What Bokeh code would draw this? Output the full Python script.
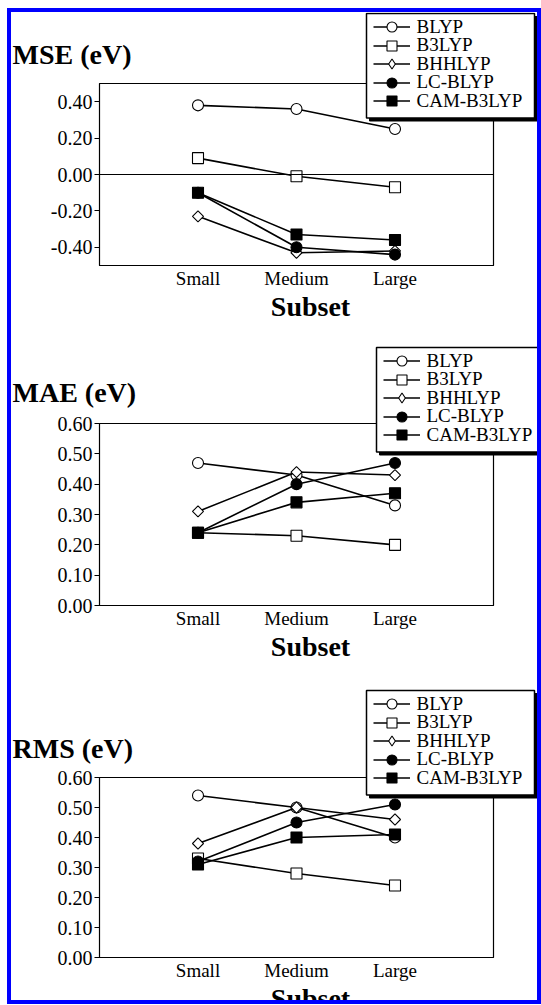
import math
from bokeh.plotting import figure
from bokeh.models import (Range1d, FactorRange, FixedTicker, PrintfTickFormatter,
                          Legend, LegendItem, Span, Label, Spacer, BoxAnnotation)
from bokeh.layouts import column, row
from bokeh.embed import file_html
from bokeh.resources import INLINE

# ---------------- data ----------------
subsets = ["Small", "Medium", "Large"]
methods = ["BLYP", "B3LYP", "BHHLYP", "LC-BLYP", "CAM-B3LYP"]

mse_blyp = [0.38, 0.36, 0.25]
mse_b3lyp = [0.09, -0.01, -0.07]
mse_bhhlyp = [-0.23, -0.43, -0.42]
mse_lcblyp = [-0.10, -0.40, -0.44]
mse_camb3lyp = [-0.10, -0.33, -0.36]

mae_blyp = [0.47, 0.43, 0.33]
mae_b3lyp = [0.24, 0.23, 0.20]
mae_bhhlyp = [0.31, 0.44, 0.43]
mae_lcblyp = [0.24, 0.40, 0.47]
mae_camb3lyp = [0.24, 0.34, 0.37]

rms_blyp = [0.54, 0.50, 0.40]
rms_b3lyp = [0.33, 0.28, 0.24]
rms_bhhlyp = [0.38, 0.50, 0.46]
rms_lcblyp = [0.32, 0.45, 0.51]
rms_camb3lyp = [0.31, 0.40, 0.41]

mse_ticks = [-0.4, -0.2, 0.0, 0.2, 0.4]
err_ticks = [0.0, 0.1, 0.2, 0.3, 0.4, 0.5, 0.6]
panel_titles = ["MSE (eV)", "MAE (eV)", "RMS (eV)"]
x_title = "Subset"

# ---------------- styles ----------------
SERIF = "Liberation Serif"
W = 526
HEIGHTS = [324, 340, 324]
INNER_H = sum(HEIGHTS)
# marker, fill, size, angle (plot) and marker, size (legend key)
marker_style = {
    "BLYP": ("circle", "white", 11, 0.0, "circle"),
    "B3LYP": ("square", "white", 11, 0.0, "square"),
    "BHHLYP": ("square", "white", 7.8, math.pi / 4, "diamond"),
    "LC-BLYP": ("circle", "black", 11, 0.0, "circle"),
    "CAM-B3LYP": ("square", "black", 11, 0.0, "square"),
}


def make_panel(series, yrange, yticks, height, top, bottom, zero=False):
    p = figure(width=W, height=height,
               x_range=FactorRange(factors=subsets, range_padding=0.5,
                                   range_padding_units="absolute"),
               y_range=Range1d(*yrange),
               output_backend="svg", toolbar_location=None,
               min_border_left=88, min_border_right=44,
               min_border_top=top, min_border_bottom=bottom,
               background_fill_color="white", border_fill_color="white")
    p.xgrid.grid_line_color = None
    p.ygrid.grid_line_color = None
    p.outline_line_color = "black"
    p.outline_line_width = 1.2

    ya = p.yaxis[0]
    ya.ticker = FixedTicker(ticks=yticks)
    ya.formatter = PrintfTickFormatter(format="%.2f")
    ya.minor_tick_line_color = None
    ya.major_tick_in = 0
    ya.major_tick_out = 5
    ya.major_label_standoff = 2
    ya.axis_line_color = "black"
    ya.major_tick_line_color = "black"
    ya.major_label_text_font = SERIF
    ya.major_label_text_font_size = "20px"
    ya.major_label_text_color = "black"

    xa = p.xaxis[0]
    xa.major_tick_in = 0
    xa.major_tick_out = 0
    xa.major_tick_line_color = None
    xa.minor_tick_line_color = None
    xa.major_label_standoff = 2
    xa.axis_line_color = "black"
    xa.major_label_text_font = SERIF
    xa.major_label_text_font_size = "19px"
    xa.major_label_text_color = "black"

    if zero:
        p.add_layout(Span(location=0, dimension="width", line_color="black", line_width=1.2))

    for m, ys in zip(methods, series):
        mk, fill, sz, ang, _ = marker_style[m]
        p.line(subsets, ys, line_color="black", line_width=1.6)
        p.scatter(subsets, ys, marker=mk, size=sz, angle=ang, fill_color=fill,
                  line_color="black", line_width=1.1)
    return p


p1 = make_panel([mse_blyp, mse_b3lyp, mse_bhhlyp, mse_lcblyp, mse_camb3lyp],
                (-0.5, 0.5), mse_ticks, HEIGHTS[0], 71, 71, zero=True)
p2 = make_panel([mae_blyp, mae_b3lyp, mae_bhhlyp, mae_lcblyp, mae_camb3lyp],
                (0.0, 0.6), err_ticks, HEIGHTS[1], 87, 71)
p3 = make_panel([rms_blyp, rms_b3lyp, rms_bhhlyp, rms_lcblyp, rms_camb3lyp],
                (0.0, 0.6), err_ticks, HEIGHTS[2], 101, 43)

# ---------- transparent overlay: titles, "Subset" labels and legends ----------
ov = figure(width=W, height=INNER_H, x_range=Range1d(0, 1), y_range=Range1d(0, 1),
            output_backend="svg", toolbar_location=None,
            x_axis_location=None, y_axis_location=None, min_border=0,
            frame_align=False,
            background_fill_color=None, border_fill_color=None, outline_line_color=None,
            margin=(-INNER_H, 0, 0, 0))
ov.xgrid.grid_line_color = None
ov.ygrid.grid_line_color = None

key_renderers = {}
for m in methods:
    _, fill, _, _, key_mk = marker_style[m]
    lr = ov.line([0, 1], [0, 1], line_color="black", line_width=1.6, visible=False)
    sr = ov.scatter([0], [0], marker=key_mk, size=10, fill_color=fill,
                    line_color="black", line_width=1.1, visible=False)
    key_renderers[m] = [lr, sr]

BOX_W, BOX_H = 168, 104.5
FIRST, PITCH = 13.5, 18.6


def add_key(x0, y0):
    """Legend box whose top-left corner is (x0, y0) in overlay pixels (y down)."""
    ov.add_layout(BoxAnnotation(left=x0 + 3, right=x0 + BOX_W + 3,
                                top=INNER_H - (y0 + 3), bottom=INNER_H - (y0 + BOX_H + 3),
                                left_units="screen", right_units="screen",
                                top_units="screen", bottom_units="screen",
                                fill_color="black", fill_alpha=1.0,
                                line_color="black", line_alpha=1.0, line_width=1))
    ov.add_layout(BoxAnnotation(left=x0, right=x0 + BOX_W,
                                top=INNER_H - y0, bottom=INNER_H - (y0 + BOX_H),
                                left_units="screen", right_units="screen",
                                top_units="screen", bottom_units="screen",
                                fill_color="white", fill_alpha=1.0,
                                line_color="black", line_alpha=1.0, line_width=1.5))
    for k, m in enumerate(methods):
        cy = y0 + FIRST + PITCH * k
        ov.add_layout(Legend(items=[LegendItem(label=m, renderers=key_renderers[m])],
                             location=(x0 + 6.5, INNER_H - (cy + 12.5)),
                             orientation="vertical",
                             glyph_width=37, glyph_height=25, spacing=0, padding=0, margin=0,
                             label_standoff=7, label_width=20, label_height=20,
                             label_text_font=SERIF, label_text_font_size="19px",
                             label_text_color="black",
                             border_line_color=None, background_fill_color=None))


# top-left corners of the three legend boxes (overlay pixels, y down)
legend_corners = [(355, 1), (365, 335), (355, 678)]
for x0, y0 in legend_corners:
    add_key(x0, y0)

title_ys = [946, 608, 252]
for t, y in zip(panel_titles, title_ys):
    ov.add_layout(Label(x=1, y=y, x_units="screen", y_units="screen", text=t,
                        text_align="left", text_baseline="alphabetic",
                        text_font=SERIF, text_font_size="28px", text_font_style="bold",
                        text_color="black"))

subset_ys = [694, 354, 2]
for y in subset_ys:
    ov.add_layout(Label(x=299, y=y, x_units="screen", y_units="screen", text=x_title,
                        text_align="center", text_baseline="alphabetic",
                        text_font=SERIF, text_font_size="28px", text_font_style="bold",
                        text_color="black"))

BLUE = "#0000ff"


def bar(w, h, color=BLUE):
    return Spacer(width=w, height=h, margin=0, styles={"background-color": color})


inner = column(p1, p2, p3, ov, spacing=0)
layout = column(
    bar(541, 8, "white"),
    row(bar(7, INNER_H + 8, "white"),
        column(bar(534, 4),
               row(bar(4, INNER_H), inner, bar(4, INNER_H), spacing=0),
               bar(534, 4), spacing=0),
        spacing=0),
    spacing=0,
)

open("out.html", "w").write(file_html(layout, INLINE))
